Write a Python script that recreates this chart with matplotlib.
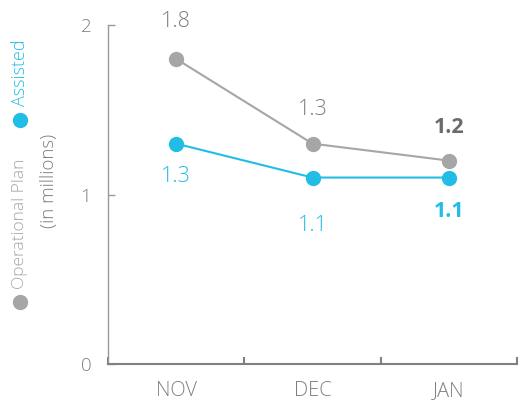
import matplotlib
matplotlib.use("Agg")
import matplotlib.pyplot as plt
from matplotlib.lines import Line2D

plt.rcParams['font.family'] = ['Open Sans', 'DejaVu Sans']
plt.rcParams['font.weight'] = 'light'

# data
months = ["NOV", "DEC", "JAN"]
operational_plan = [1.8, 1.3, 1.2]
assisted = [1.3, 1.1, 1.1]

GRAY = "#a6a6a6"
GRAY_TXT = "#7f7f7f"
BLUE = "#22bde6"

fig = plt.figure(figsize=(5.24, 4.03), dpi=100)
ax = fig.add_axes([108/524, 1-364/403, (517-108)/524, (364-25)/403])

x = list(range(len(months)))
ax.plot(x, operational_plan, color=GRAY, lw=1.5, marker="o", ms=10, zorder=3)
ax.plot(x, assisted, color=BLUE, lw=1.5, marker="o", ms=10, zorder=3)

# value labels, offsets in pixels (above for plan, below for assisted)
plan_off = [-37, -34, -33]
assist_off = [33, 48, 34]
for i in x:
    last = i == len(months) - 1
    ax.annotate(f"{operational_plan[i]:.1f}", (i, operational_plan[i]),
                xytext=(0, -plan_off[i]*0.72), textcoords="offset points",
                ha="center", va="center", fontsize=15.5,
                color="#6b6b6b" if last else GRAY_TXT,
                fontweight="bold" if last else "light", annotation_clip=False)
    ax.annotate(f"{assisted[i]:.1f}", (i, assisted[i]),
                xytext=(0, -assist_off[i]*0.72), textcoords="offset points",
                ha="center", va="center", fontsize=15.5, color=BLUE,
                fontweight="bold" if last else "light", annotation_clip=False)

ax.set_xlim(-0.5, len(months) - 0.5)
ax.set_ylim(0, 2)
ax.set_yticks([0, 1, 2])
ax.set_yticklabels(["0", "1", "2"])

# x ticks between categories, labels at the categories
ax.set_xticks([i - 0.5 for i in range(len(months) + 1)])
ax.set_xticklabels([])
ax.set_xticks(x, minor=True)
ax.set_xticklabels(months, minor=True)
ax.tick_params(axis="x", which="major", direction="in", length=5, width=1.5, color="#808080")
ax.tick_params(axis="x", which="minor", length=0, pad=12, labelsize=14.5, labelcolor=GRAY_TXT)
ax.tick_params(axis="y", direction="in", length=5, width=1, color="#999999",
               pad=12, labelsize=13.5, labelcolor=GRAY_TXT)

for s in ["top", "right"]:
    ax.spines[s].set_visible(False)
ax.spines["left"].set_color("#999999")
ax.spines["left"].set_linewidth(1)
ax.spines["bottom"].set_color("#808080")
ax.spines["bottom"].set_linewidth(1.5)

# vertical legend on the left
fig.add_artist(Line2D([20/524], [1-302/403], marker="o", ms=10, color=GRAY,
                      transform=fig.transFigure))
fig.add_artist(Line2D([20/524], [1-120/403], marker="o", ms=10, color=BLUE,
                      transform=fig.transFigure))
fig.text(20/524, 1-289/403, "Operational Plan", rotation=90, ha="center", va="bottom",
         fontsize=12.5, color=GRAY)
fig.text(20/524, 1-106/403, "Assisted", rotation=90, ha="center", va="bottom",
         fontsize=13, color=BLUE)
fig.text(49/524, 1-181/403, "(in millions)", rotation=90, ha="center", va="center",
         fontsize=13.5, color=GRAY_TXT)

fig.savefig("out.png", dpi=100)
